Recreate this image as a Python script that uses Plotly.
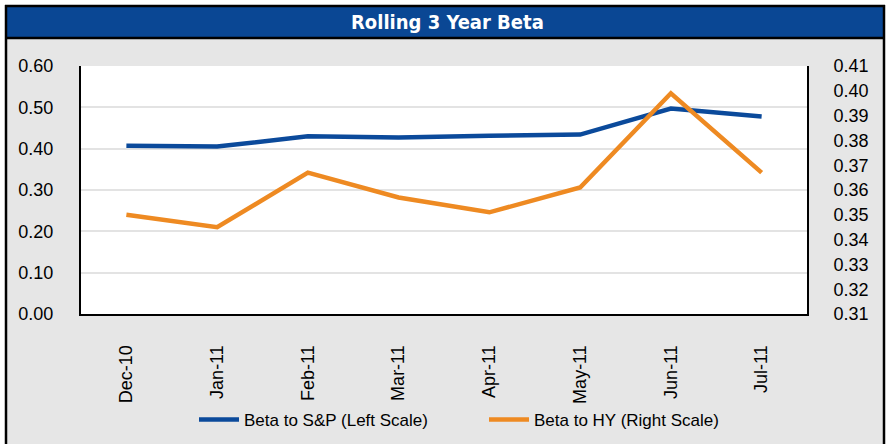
import plotly.graph_objects as go

# Monthly rolling 3-year betas
months = ["Dec-10", "Jan-11", "Feb-11", "Mar-11", "Apr-11", "May-11", "Jun-11", "Jul-11"]
beta_sp = [0.407, 0.405, 0.430, 0.427, 0.431, 0.434, 0.497, 0.478]
beta_hy = [0.350, 0.345, 0.367, 0.357, 0.351, 0.361, 0.399, 0.367]

left_ticks = [0.0, 0.1, 0.2, 0.3, 0.4, 0.5, 0.6]
right_ticks = [0.31, 0.32, 0.33, 0.34, 0.35, 0.36, 0.37, 0.38, 0.39, 0.40, 0.41]

W, H = 890, 444
L, R, T, B = 81, 807, 66, 314

BLUE = "#0b4a9b"
ORANGE = "#ee8a22"
BAR = "#0a4794"
PANEL = "#e6e6e6"
FONT = "Liberation Sans, Arial, sans-serif"


def px(x):
    return (x - L) / (R - L)


def py(y):
    return (B - y) / (B - T)


fig = go.Figure()
fig.add_trace(go.Scatter(
    x=months, y=beta_sp, name="Beta to S&P (Left Scale)",
    mode="lines", line=dict(color=BLUE, width=4.5), yaxis="y",
))
fig.add_trace(go.Scatter(
    x=months, y=beta_hy, name="Beta to HY (Right Scale)",
    mode="lines", line=dict(color=ORANGE, width=4.5), yaxis="y2",
))

shapes = [
    # white margin outside the frame
    dict(type="rect", xref="paper", yref="paper", x0=px(-5), x1=px(5), y0=py(450), y1=py(-5),
         fillcolor="white", line=dict(width=0)),
    dict(type="rect", xref="paper", yref="paper", x0=px(-5), x1=px(895), y0=py(5), y1=py(-5),
         fillcolor="white", line=dict(width=0)),
    dict(type="rect", xref="paper", yref="paper", x0=px(885), x1=px(895), y0=py(450), y1=py(-5),
         fillcolor="white", line=dict(width=0)),
    # title bar
    dict(type="rect", xref="paper", yref="paper", x0=px(6), x1=px(883), y0=py(37.5), y1=py(6.5),
         fillcolor=BAR, line=dict(width=0)),
    # frame lines
    dict(type="line", xref="paper", yref="paper", x0=px(5), x1=px(885), y0=py(6), y1=py(6),
         line=dict(color="black", width=2.5)),
    dict(type="line", xref="paper", yref="paper", x0=px(5), x1=px(885), y0=py(38), y1=py(38),
         line=dict(color="black", width=2.5)),
    dict(type="line", xref="paper", yref="paper", x0=px(6), x1=px(6), y0=py(450), y1=py(5),
         line=dict(color="black", width=2.5)),
    dict(type="line", xref="paper", yref="paper", x0=px(884), x1=px(884), y0=py(450), y1=py(5),
         line=dict(color="black", width=2.5)),
]

fig.update_layout(
    width=W, height=H,
    margin=dict(l=L, r=W - R, t=T, b=H - B, pad=0, autoexpand=False),
    paper_bgcolor=PANEL,
    plot_bgcolor="white",
    font=dict(family=FONT, size=18, color="black"),
    showlegend=True,
    legend=dict(
        orientation="h", x=px(484), xanchor="center", y=py(420), yanchor="middle",
        bgcolor="rgba(0,0,0,0)", font=dict(family=FONT, size=17, color="black"),
        itemwidth=40, tracegroupgap=0, entrywidth=235, entrywidthmode="pixels",
    ),
    shapes=shapes,
    annotations=[dict(
        text="<b>Rolling 3 Year Beta</b>", xref="paper", yref="paper",
        x=px(447), y=py(22), xanchor="center", yanchor="middle", showarrow=False,
        font=dict(family="DejaVu Sans Condensed, sans-serif", size=20, color="white"),
    )],
    xaxis=dict(
        type="category", range=[-0.5, len(months) - 0.5], automargin=False,
        tickangle=-90, showgrid=False, ticks="", showline=True,
        linecolor="black", linewidth=2, ticklabelstandoff=22,
        tickfont=dict(family=FONT, size=18),
    ),
    yaxis=dict(
        range=[0, 0.6], tickvals=left_ticks, tickformat=".2f", automargin=False,
        showgrid=True, gridcolor="#e3e3e3", gridwidth=2, zeroline=False,
        showline=True, linecolor="black", linewidth=2, ticks="",
        ticklabelstandoff=22, tickfont=dict(family=FONT, size=18),
    ),
    yaxis2=dict(
        range=[0.31, 0.41], tickvals=right_ticks, tickformat=".2f", automargin=False,
        overlaying="y", side="right", showgrid=False, zeroline=False,
        showline=True, linecolor="black", linewidth=2, ticks="",
        ticklabelstandoff=21, tickfont=dict(family=FONT, size=18),
    ),
)

fig.write_html("out.html")
